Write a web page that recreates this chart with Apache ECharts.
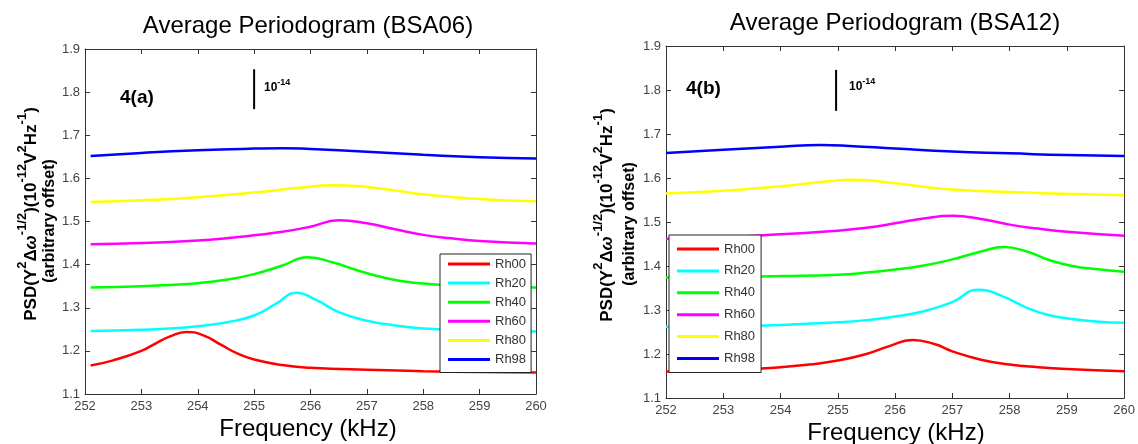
<!DOCTYPE html>
<html><head><meta charset="utf-8">
<script src="https://cdn.jsdelivr.net/npm/echarts@6/dist/echarts.min.js"></script>
<style>html,body{margin:0;padding:0;background:#fff}#c{width:1138px;height:444px}</style>
</head><body><div id="c"></div>
<script>
// ---------- data ----------
const seriesNames = ['Rh00','Rh20','Rh40','Rh60','Rh80','Rh98'];
const seriesColors = ['#ff0000','#00ffff','#00ff00','#ff00ff','#ffff00','#0000ff'];
const titles = ['Average Periodogram (BSA06)','Average Periodogram (BSA12)'];
const panelTags = ['4(a)','4(b)'];
const xMin = 252, xMax = 260, xStep = 1;
const yMin = 1.1, yMax = 1.9, yStep = 0.1;

// Panel (a) BSA06: [frequency kHz, PSD]
const rh00A = [[252.1,1.166],[252.5,1.178],[253,1.200],[253.25,1.217],[253.5,1.233],[253.8,1.244],[254.1,1.236],[254.4,1.215],[254.7,1.194],[255,1.180],[255.5,1.167],[256,1.161],[257,1.156],[258,1.153],[259,1.151],[260,1.150]];
const rh20A = [[252.1,1.246],[253,1.249],[253.5,1.252],[254,1.257],[254.5,1.266],[255,1.282],[255.4,1.310],[255.75,1.335],[256.1,1.318],[256.5,1.290],[257,1.270],[257.5,1.259],[258,1.252],[259,1.247],[260,1.245]];
const rh40A = [[252.1,1.347],[253,1.350],[253.5,1.353],[254,1.357],[254.5,1.365],[255,1.378],[255.5,1.398],[255.95,1.417],[256.4,1.405],[256.8,1.388],[257.2,1.373],[257.6,1.362],[258,1.356],[259,1.349],[260,1.347]];
const rh60A = [[252.1,1.447],[253,1.450],[254,1.456],[254.5,1.461],[255,1.468],[255.5,1.476],[256,1.488],[256.5,1.503],[257,1.496],[257.5,1.482],[258,1.469],[258.5,1.461],[259,1.455],[260,1.449]];
const rh80A = [[252.1,1.545],[253,1.549],[254,1.556],[255,1.567],[255.8,1.578],[256.4,1.584],[257,1.580],[257.5,1.572],[258,1.563],[259,1.552],[260,1.547]];
const rh98A = [[252.1,1.652],[253,1.659],[254,1.665],[255,1.669],[255.5,1.670],[256,1.668],[257,1.662],[258,1.655],[259,1.649],[260,1.646]];

// Panel (b) BSA12
const rh00B = [[252,1.160],[253,1.163],[254,1.170],[254.5,1.176],[255,1.185],[255.5,1.200],[255.9,1.218],[256.3,1.232],[256.7,1.222],[257,1.206],[257.5,1.187],[258,1.176],[258.5,1.170],[259,1.166],[260,1.161]];
const rh20B = [[252,1.262],[253,1.263],[254,1.266],[255,1.272],[255.5,1.277],[256,1.285],[256.5,1.297],[257,1.318],[257.45,1.346],[257.9,1.330],[258.3,1.305],[258.7,1.288],[259,1.281],[259.5,1.274],[260,1.271]];
const rh40B = [[252,1.374],[253,1.375],[254,1.377],[255,1.380],[255.5,1.385],[256,1.392],[256.5,1.401],[257,1.415],[257.5,1.433],[257.9,1.443],[258.3,1.433],[258.7,1.413],[259.1,1.400],[259.5,1.393],[260,1.387]];
const rh60B = [[252,1.462],[253,1.465],[254,1.472],[255,1.480],[255.5,1.487],[256,1.497],[256.5,1.508],[257,1.514],[257.5,1.507],[258,1.494],[258.5,1.485],[259,1.478],[260,1.469]];
const rh80B = [[252,1.565],[253,1.571],[254,1.581],[254.7,1.591],[255.3,1.596],[256,1.588],[256.5,1.580],[257,1.574],[258,1.568],[259,1.564],[260,1.561]];
const rh98B = [[252,1.657],[253,1.664],[254,1.671],[254.7,1.675],[255.2,1.673],[256,1.667],[257,1.660],[258,1.656],[259,1.652],[260,1.650]];

// 10^-14 scale bars
const scaleBarA = [[255,1.7605],[255,1.853]];
const scaleBarB = [[254.97,1.7526],[254.97,1.8456]];

// ---------- chart ----------
const FONT = 'Liberation Sans, Arial, Helvetica, sans-serif';
const panelData = [[rh00A,rh20A,rh40A,rh60A,rh80A,rh98A],[rh00B,rh20B,rh40B,rh60B,rh80B,rh98B]];
const scaleBars = [scaleBarA, scaleBarB];

const grids = [
  {left:85, top:49, width:451, height:345},
  {left:666, top:46, width:461, height:352}
];

const axisLineStyle = {lineStyle:{color:'#333',width:1}};
function xAx(gi, pos){
  return {type:'value', gridIndex:gi, position:pos, min:xMin, max:xMax, interval:xStep,
    axisLine:{show:true, onZero:false, ...axisLineStyle},
    axisTick:{show:true, inside:true, length:5, lineStyle:{color:'#333'}},
    axisLabel:{show:pos==='bottom', margin:6, fontSize:13, color:'#444', fontFamily:FONT},
    splitLine:{show:false}};
}
function yAx(gi, pos){
  return {type:'value', gridIndex:gi, position:pos, min:yMin, max:yMax, interval:yStep,
    axisLine:{show:true, onZero:false, ...axisLineStyle},
    axisTick:{show:true, inside:true, length:5, lineStyle:{color:'#333'}},
    axisLabel:{show:pos==='left', margin:5, fontSize:13, color:'#444', fontFamily:FONT,
      formatter:v=>v.toFixed(1)},
    splitLine:{show:false}};
}

const series = [];
panelData.forEach((arrs, p)=>{
  arrs.forEach((d, i)=>{
    series.push({type:'line', name:seriesNames[i], data:d, xAxisIndex:p*2, yAxisIndex:p*2,
      smooth:0.5, showSymbol:false, symbol:'none',
      lineStyle:{color:seriesColors[i], width:2.5}, itemStyle:{color:seriesColors[i]},
      z:2, silent:true});
  });
  series.push({type:'line', name:'scale'+p, data:scaleBars[p], xAxisIndex:p*2, yAxisIndex:p*2,
    showSymbol:false, symbol:'none', lineStyle:{color:'#000', width:2}, silent:true});
});

function legendCfg(left, top, padding, gap){
  return {orient:'vertical', left:left, top:top, padding:padding, itemGap:gap,
    itemWidth:42, itemHeight:3, icon:'rect', selectedMode:false,
    backgroundColor:'#fff', borderColor:'#222', borderWidth:1,
    textStyle:{fontSize:13, color:'#333', fontFamily:FONT, lineHeight:14},
    data:seriesNames};
}

const richY = {
  n:{fontSize:17, fontWeight:'bold', fontFamily:FONT, color:'#000', lineHeight:24, verticalAlign:'bottom'},
  i:{fontSize:17, fontWeight:'bold', fontStyle:'italic', fontFamily:FONT, color:'#000', lineHeight:24, verticalAlign:'bottom'},
  s:{fontSize:13, fontWeight:'bold', fontFamily:FONT, color:'#000', lineHeight:15, verticalAlign:'top'}
};
const yName1 = '{n|PSD(Υ}{s|2}{n|Δ}{i|ω}{s|-1/2}{n|)(10}{s|-12}{n|V}{s|2}{n|Hz}{s|-1}{n|)}';
const richE = {
  n:{fontSize:12, fontWeight:'bold', fontFamily:FONT, color:'#000', lineHeight:16, verticalAlign:'bottom'},
  s:{fontSize:9, fontWeight:'bold', fontFamily:FONT, color:'#000', lineHeight:10, verticalAlign:'top'}
};

function txt(x, y, text, fontSize, weight, align, extra){
  return Object.assign({type:'text', x:x, y:y, silent:true, z:10,
    style:{text:text, fontSize:fontSize, fontWeight:weight||'normal', fontFamily:FONT,
      fill:'#000', align:align||'center', verticalAlign:'middle'}}, extra||{});
}

const graphics = [
  txt(308, 26, titles[0], 24),
  txt(895, 23, titles[1], 24),
  txt(308, 429, 'Frequency (kHz)', 24),
  txt(896, 433, 'Frequency (kHz)', 24),
  txt(120, 98, panelTags[0], 19, 'bold', 'left'),
  txt(686, 89, panelTags[1], 19, 'bold', 'left'),
  {type:'text', x:264, y:86, silent:true, z:10, style:{text:'{n|10}{s|-14}', rich:richE, align:'left', verticalAlign:'middle'}},
  {type:'text', x:849, y:85, silent:true, z:10, style:{text:'{n|10}{s|-14}', rich:richE, align:'left', verticalAlign:'middle'}},
  {type:'text', x:28, y:214, rotation:Math.PI/2, silent:true, z:10, style:{text:yName1, rich:richY, align:'center', verticalAlign:'middle'}},
  txt(50, 221, '(arbitrary offset)', 16, 'bold', 'center', {rotation:Math.PI/2}),
  {type:'text', x:604, y:215, rotation:Math.PI/2, silent:true, z:10, style:{text:yName1, rich:richY, align:'center', verticalAlign:'middle'}},
  txt(630, 224, '(arbitrary offset)', 16, 'bold', 'center', {rotation:Math.PI/2})
];

const chart = echarts.init(document.getElementById('c'), null, {renderer:'canvas'});
chart.setOption({
  animation:false,
  backgroundColor:'#fff',
  grid:grids,
  xAxis:[xAx(0,'bottom'), xAx(0,'top'), xAx(1,'bottom'), xAx(1,'top')],
  yAxis:[yAx(0,'left'), yAx(0,'right'), yAx(1,'left'), yAx(1,'right')],
  legend:[legendCfg(440, 254, [3,5,6,8], 5.1), legendCfg(669, 235, [7,6,7,8], 7.9)],
  series:series,
  graphic:graphics
});
</script></body></html>
